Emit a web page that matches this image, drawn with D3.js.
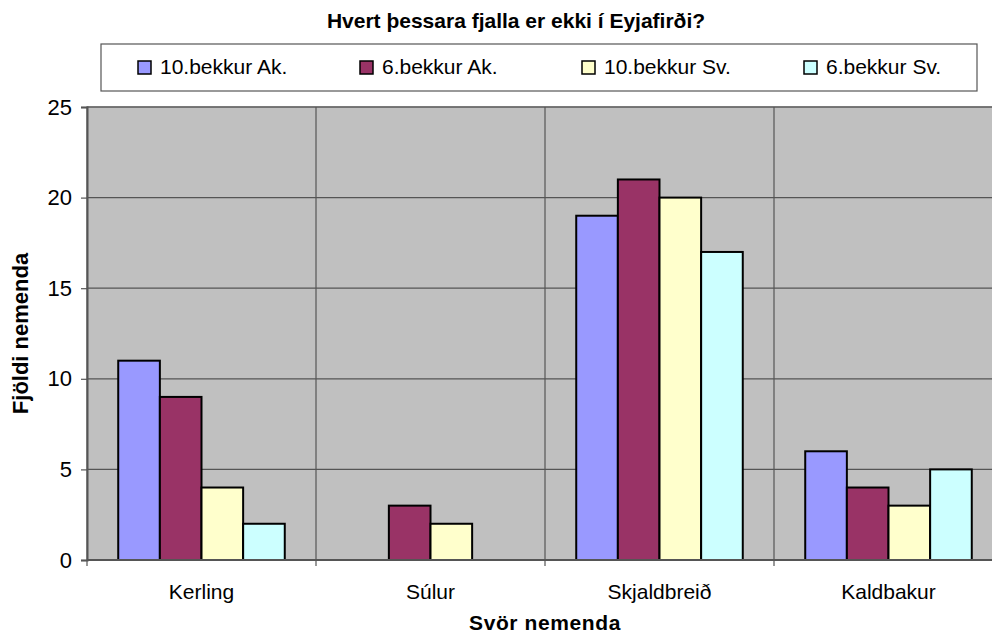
<!DOCTYPE html>
<html>
<head>
<meta charset="utf-8">
<script src="https://cdn.jsdelivr.net/npm/d3@7"></script>
<style>
  body { margin: 0; background: #fff; }
  svg { display: block; font-family: Arial, "Liberation Sans", sans-serif; }
</style>
</head>
<body>
<svg id="chart" width="992" height="634"></svg>
<script>
const categories = ['Kerling', 'Súlur', 'Skjaldbreið', 'Kaldbakur'];
const seriesNames = ['10.bekkur Ak.', '6.bekkur Ak.', '10.bekkur Sv.', '6.bekkur Sv.'];
const ak10 = [11, 0, 19, 6];
const ak6 = [9, 3, 21, 4];
const sv10 = [4, 2, 20, 3];
const sv6 = [2, 0, 17, 5];
const yTicks = [0, 5, 10, 15, 20, 25];

const colors = ['#9999ff', '#993366', '#ffffcc', '#ccffff'];
const series = [ak10, ak6, sv10, sv6];

const svg = d3.select('#chart');
const plot = { left: 87, right: 1003, top: 107, bottom: 560 };

const x = d3.scaleBand()
    .domain(categories)
    .range([plot.left, plot.right]);

const xInner = d3.scaleBand()
    .domain(seriesNames)
    .range([0, x.bandwidth()])
    .paddingOuter(0.75)
    .paddingInner(0);

const y = d3.scaleLinear()
    .domain([0, 25])
    .range([plot.bottom, plot.top]);

// plot background
svg.append('rect')
    .attr('x', plot.left).attr('y', plot.top)
    .attr('width', plot.right - plot.left)
    .attr('height', plot.bottom - plot.top)
    .attr('fill', '#c0c0c0')
    .attr('stroke', '#808080')
    .attr('stroke-width', 1.5);

// horizontal grid
svg.append('g')
    .selectAll('line')
    .data(yTicks.slice(1))
    .enter().append('line')
    .attr('x1', plot.left).attr('x2', plot.right)
    .attr('y1', d => y(d)).attr('y2', d => y(d))
    .attr('stroke', '#555')
    .attr('stroke-width', 1.2);

// vertical grid at category boundaries
svg.append('g')
    .selectAll('line')
    .data(categories.slice(1))
    .enter().append('line')
    .attr('x1', d => x(d)).attr('x2', d => x(d))
    .attr('y1', plot.top).attr('y2', plot.bottom)
    .attr('stroke', '#555')
    .attr('stroke-width', 1.2);

// bars
const group = svg.append('g')
    .selectAll('g')
    .data(categories)
    .enter().append('g')
    .attr('transform', d => `translate(${x(d)},0)`);

group.selectAll('rect')
    .data((d, i) => series.map((s, j) => ({ name: seriesNames[j], value: s[i], color: colors[j] })))
    .enter().append('rect')
    .filter(d => d.value > 0)
    .attr('x', d => xInner(d.name))
    .attr('y', d => y(d.value))
    .attr('width', xInner.bandwidth())
    .attr('height', d => y(0) - y(d.value))
    .attr('fill', d => d.color)
    .attr('stroke', '#000')
    .attr('stroke-width', 2);

// y axis
const yAxis = d3.axisLeft(y)
    .tickValues(yTicks)
    .tickSize(6)
    .tickPadding(9);

const yg = svg.append('g')
    .attr('transform', `translate(${plot.left},0)`)
    .call(yAxis);
yg.select('.domain').attr('stroke', '#555').attr('stroke-width', 2);
yg.selectAll('.tick line').attr('stroke', '#555').attr('stroke-width', 1.2);
yg.selectAll('.tick text')
    .attr('fill', '#000')
    .style('font-size', '22px')
    .style('font-family', 'Arial, "Liberation Sans", sans-serif');

// x axis line and ticks at boundaries
svg.append('line')
    .attr('x1', plot.left).attr('x2', plot.right)
    .attr('y1', plot.bottom).attr('y2', plot.bottom)
    .attr('stroke', '#555').attr('stroke-width', 2);

svg.append('g')
    .selectAll('line')
    .data(categories)
    .enter().append('line')
    .attr('x1', d => x(d)).attr('x2', d => x(d))
    .attr('y1', plot.bottom).attr('y2', plot.bottom + 6)
    .attr('stroke', '#555').attr('stroke-width', 1.2);

svg.append('g')
    .selectAll('text')
    .data(categories)
    .enter().append('text')
    .attr('x', d => x(d) + x.bandwidth() / 2)
    .attr('y', 599)
    .attr('text-anchor', 'middle')
    .style('font-size', '21px')
    .text(d => d);

// titles
svg.append('text')
    .attr('x', 516).attr('y', 28)
    .attr('text-anchor', 'middle')
    .style('font-size', '21px')
    .style('font-weight', 'bold')
    .text('Hvert þessara fjalla er ekki í Eyjafirði?');

svg.append('text')
    .attr('x', 545).attr('y', 630)
    .attr('text-anchor', 'middle')
    .style('font-size', '21px')
    .style('font-weight', 'bold')
    .style('letter-spacing', '0.6px')
    .text('Svör nemenda');

svg.append('text')
    .attr('transform', `translate(28,${(plot.top + plot.bottom) / 2}) rotate(-90)`)
    .attr('text-anchor', 'middle')
    .style('font-size', '22px')
    .style('font-weight', 'bold')
    .text('Fjöldi nemenda');

// legend
svg.append('rect')
    .attr('x', 101).attr('y', 44)
    .attr('width', 876).attr('height', 47)
    .attr('fill', '#fff')
    .attr('stroke', '#555')
    .attr('stroke-width', 1.2);

const legendX = [138, 360, 582, 804];
const legend = svg.append('g')
    .selectAll('g')
    .data(seriesNames)
    .enter().append('g')
    .attr('transform', (d, i) => `translate(${legendX[i]},67)`);

legend.append('rect')
    .attr('x', 0).attr('y', -6)
    .attr('width', 13).attr('height', 13)
    .attr('fill', (d, i) => colors[i])
    .attr('stroke', '#000')
    .attr('stroke-width', 1.5);

legend.append('text')
    .attr('x', 22).attr('y', 7)
    .style('font-size', '21px')
    .text(d => d);
</script>
</body>
</html>
